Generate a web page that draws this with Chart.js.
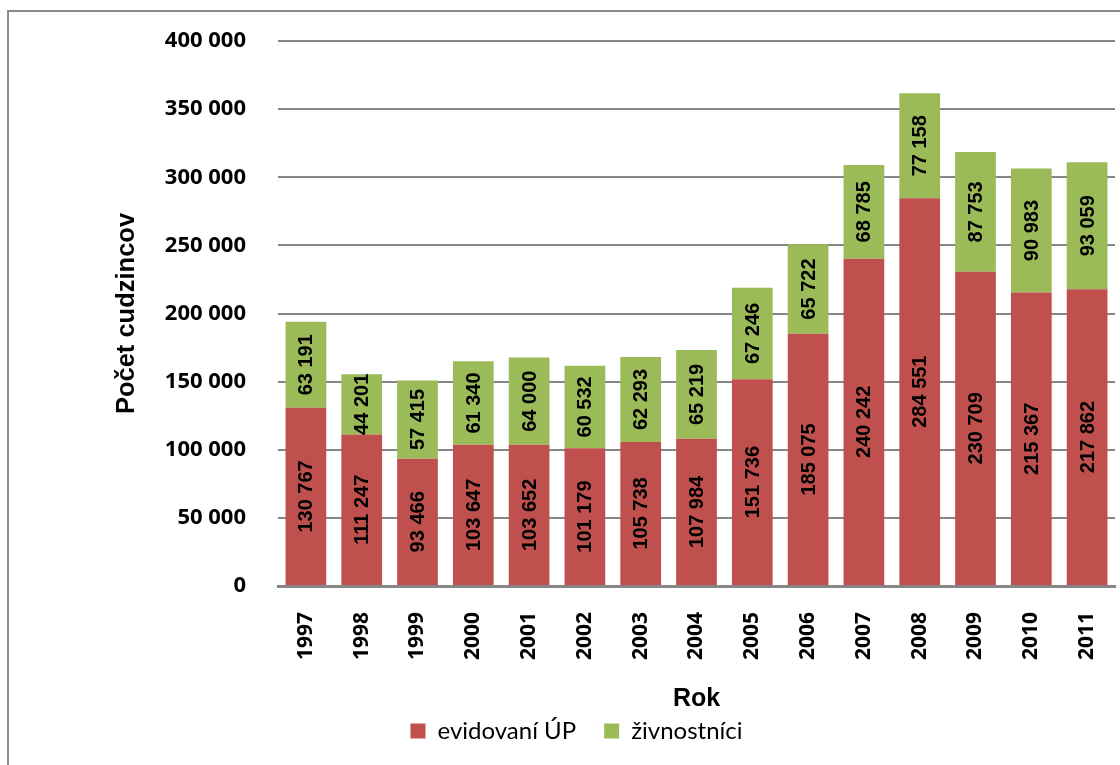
<!DOCTYPE html>
<html>
<head>
<meta charset="utf-8">
<script src="https://cdn.jsdelivr.net/npm/chart.js@4.4.1/dist/chart.umd.min.js"></script>
<style>
  html, body { margin: 0; padding: 0; background: #fff; overflow: hidden; }
  #wrap { position: relative; width: 1120px; height: 765px; }
  #frame { position: absolute; left: 7px; top: 10px; width: 1140px; height: 790px;
           border: 2px solid #8c8c8c; box-sizing: border-box; pointer-events: none; }
  canvas { position: absolute; left: 0; top: 0; }
</style>
</head>
<body>
<div id="wrap">
  <canvas id="chart" width="1120" height="765"></canvas>
  <div id="frame"></div>
</div>
<script>
const years = ["1997", "1998", "1999", "2000", "2001", "2002", "2003", "2004",
  "2005", "2006", "2007", "2008", "2009", "2010", "2011"];
const evidovani = [130767, 111247, 93466, 103647, 103652, 101179, 105738, 107984,
  151736, 185075, 240242, 284551, 230709, 215367, 217862];
const zivnostnici = [63191, 44201, 57415, 61340, 64000, 60532, 62293, 65219,
  67246, 65722, 68785, 77158, 87753, 90983, 93059];
const yMax = 400000;
const yStep = 50000;

function fmt(v) {
  return String(v).replace(/\B(?=(\d{3})+(?!\d))/g, " ");
}

// rotated value labels in the middle of each bar segment
const barLabels = {
  id: "barLabels",
  afterDatasetsDraw(chart) {
    const ctx = chart.ctx;
    ctx.save();
    ctx.font = "bold 20px 'Liberation Sans', Arial, sans-serif";
    ctx.fillStyle = "#000";
    ctx.textAlign = "center";
    ctx.textBaseline = "middle";
    chart.data.datasets.forEach((ds, i) => {
      const meta = chart.getDatasetMeta(i);
      meta.data.forEach((bar, j) => {
        const p = bar.getProps(["x", "y", "base"], true);
        ctx.save();
        ctx.translate(p.x, (p.y + p.base) / 2);
        ctx.rotate(-Math.PI / 2);
        ctx.fillText(fmt(ds.data[j]), 0, 1);
        ctx.restore();
      });
    });
    ctx.restore();
  }
};

// legend sits a bit right of the canvas centre in the original
const legendShift = {
  id: "legendShift",
  afterLayout(chart) {
    chart.legend.left += 19;
    chart.legend.right += 19;
  }
};

const ctx = document.getElementById("chart").getContext("2d");

new Chart(ctx, {
  type: "bar",
  data: {
    labels: years,
    datasets: [
      {
        label: "evidovaní ÚP",
        data: evidovani,
        backgroundColor: "#c0504d",
        categoryPercentage: 1,
        barPercentage: 0.73,
      },
      {
        label: "živnostníci",
        data: zivnostnici,
        backgroundColor: "#9bbb59",
        categoryPercentage: 1,
        barPercentage: 0.73,
      },
    ],
  },
  options: {
    responsive: false,
    animation: false,
    devicePixelRatio: 1,
    layout: { padding: { top: 41, right: 5, bottom: 12, left: 0 } },
    plugins: {
      legend: {
        position: "bottom",
        labels: {
          color: "#000",
          font: { family: "Lato", size: 24 },
          boxWidth: 15,
          boxHeight: 15,
          padding: 28,
        },
      },
      tooltip: { enabled: false },
    },
    scales: {
      x: {
        stacked: true,
        grid: { display: false, drawTicks: false },
        border: { display: true, color: "#868686", width: 3 },
        ticks: {
          color: "#000",
          font: { family: "'Open Sans'", size: 21, weight: "bold" },
          minRotation: 90,
          maxRotation: 90,
          padding: 26,
        },
        title: {
          display: true,
          text: "Rok",
          color: "#000",
          font: { family: "'Liberation Sans', Arial", size: 25, weight: "bold" },
          padding: { top: 0, bottom: -23 },
        },
        afterFit(scale) {
          scale.paddingLeft = 0;
          scale.paddingRight = 0;
          scale.height = 105;
        },
      },
      y: {
        stacked: true,
        min: 0,
        max: yMax,
        grid: { color: "#868686", lineWidth: 2, drawTicks: false },
        border: { display: false },
        ticks: {
          stepSize: yStep,
          color: "#000",
          font: { family: "'Open Sans'", size: 22, weight: "bold" },
          padding: 32,
          callback: (v) => fmt(v),
        },
        title: {
          display: true,
          text: "Počet cudzincov",
          color: "#000",
          font: { family: "'Liberation Sans', Arial", size: 25.5, weight: "bold" },
          padding: { top: 112, bottom: 0 },
        },
        afterFit(scale) {
          scale.width = 278;
          scale.paddingTop = 0;
          scale.paddingBottom = 0;
        },
      },
    },
  },
  plugins: [barLabels, legendShift],
});
</script>
</body>
</html>
